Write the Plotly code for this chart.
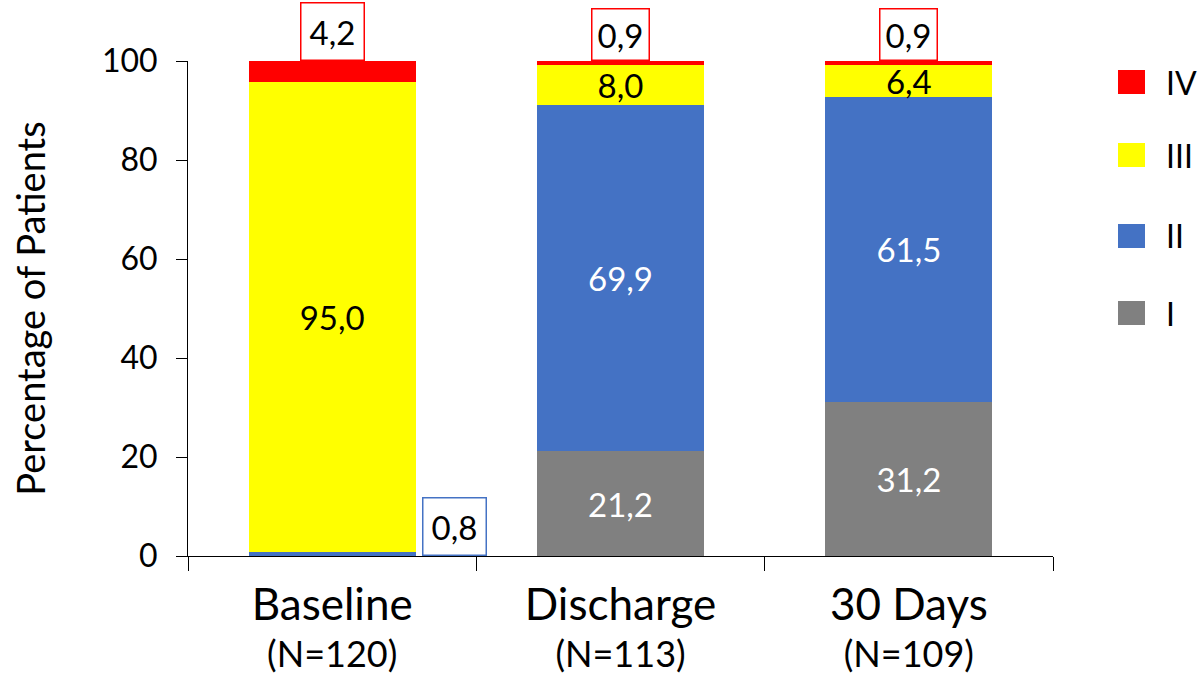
import plotly.graph_objects as go

# Categories and patient counts
categories = ["Baseline", "Discharge", "30 Days"]
patients_n = [120, 113, 109]

# NYHA class shares (% of patients), bottom to top
class_names = ["I", "II", "III", "IV"]
class_i = [0.0, 21.2, 31.2]
class_ii = [0.8, 69.9, 61.5]
class_iii = [95.0, 8.0, 6.4]
class_iv = [4.2, 0.9, 0.9]

class_colors = ["#808080", "#4472C4", "#FFFF00", "#FF0000"]
label_colors = ["white", "white", "black", "black"]

# Small shares shown in boxed callouts instead of inside the bar
callout_threshold = 5.0

y_ticks = [0, 20, 40, 60, 80, 100]

FONT = "Lato"
W, H = 1200, 678
ML, MR, MT, MB = 188, 147, 61, 122
LABEL_SIZE = 33


def fmt(v):
    return f"{v:.1f}".replace(".", ",")


series = [class_i, class_ii, class_iii, class_iv]
tick_text = [
    f"<span style='font-size:44px'>{c}</span><br>"
    f"<span style='font-size:36px'>(N={n})</span>"
    for c, n in zip(categories, patients_n)
]

fig = go.Figure()
for name, vals, col, tcol in zip(class_names, series, class_colors, label_colors):
    fig.add_trace(go.Bar(
        x=categories, y=vals, name=name,
        marker=dict(color=col, line=dict(width=0)),
        text=[fmt(v) if v >= callout_threshold else "" for v in vals],
        textposition="inside", insidetextanchor="middle", textangle=0,
        constraintext="none",
        textfont=dict(family=FONT, size=LABEL_SIZE, color=tcol),
        showlegend=False,
    ))

# Boxed callouts for the thin segments
for i, (cat, v) in enumerate(zip(categories, class_iv)):
    fig.add_annotation(
        x=cat, y=100, yanchor="bottom", text=fmt(v), showarrow=False,
        font=dict(family=FONT, size=LABEL_SIZE, color="black"),
        bgcolor="white", bordercolor="#FF0000", borderwidth=1.5,
        borderpad=8 if i == 0 else 5,
    )
for cat, v in zip(categories, class_ii):
    if v < callout_threshold:
        fig.add_annotation(
            x=cat, y=0, yanchor="bottom", xshift=122, text=fmt(v), showarrow=False,
            font=dict(family=FONT, size=LABEL_SIZE, color="black"),
            bgcolor="white", bordercolor="#4472C4", borderwidth=1.5, borderpad=8,
        )

# Legend drawn as squares and labels to the right of the plot, top class first
pw, ph = W - ML - MR, H - MT - MB
legend_y = [82, 155, 236, 313]
for (name, col), yc in zip(list(zip(class_names, class_colors))[::-1], legend_y):
    fig.add_shape(
        type="rect", xref="paper", yref="paper",
        x0=(1118 - ML) / pw, x1=(1145 - ML) / pw,
        y0=(H - MB - (yc + 12)) / ph, y1=(H - MB - (yc - 12)) / ph,
        fillcolor=col, line=dict(width=0),
    )
    fig.add_annotation(
        xref="paper", yref="paper", x=(1164 - ML) / pw, y=(H - MB - yc) / ph,
        xanchor="left", yanchor="middle", text=name, showarrow=False,
        font=dict(family=FONT, size=32, color="black"),
    )

fig.update_layout(
    barmode="stack", bargap=0.42,
    width=W, height=H, margin=dict(l=ML, r=MR, t=MT, b=MB),
    paper_bgcolor="white", plot_bgcolor="white",
    font=dict(family=FONT, color="black"),
)
fig.update_xaxes(
    type="category", tickson="boundaries", ticks="outside", ticklen=14,
    tickcolor="black", tickwidth=1, showline=True, linecolor="black", linewidth=1,
    tickvals=categories, ticktext=tick_text, tickfont=dict(family=FONT, size=36),
    ticklabelstandoff=20, automargin=False,
    showgrid=False, zeroline=False,
)
fig.update_yaxes(
    range=[0, 100], tickvals=y_ticks, ticks="outside", ticklen=11,
    tickcolor="black", showline=True, linecolor="black", linewidth=1,
    tickfont=dict(family=FONT, size=32), ticklabelstandoff=12, automargin=False,
    showgrid=False, zeroline=False,
    title=dict(text="Percentage of Patients", font=dict(family=FONT, size=38), standoff=44),
)

fig.write_html("out.html")
